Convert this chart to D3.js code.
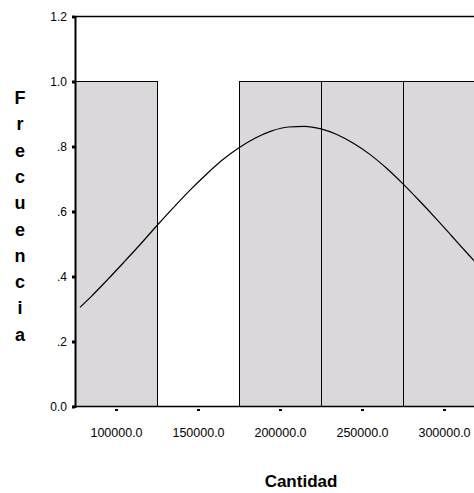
<!DOCTYPE html>
<html>
<head>
<meta charset="utf-8">
<script src="https://cdn.jsdelivr.net/npm/d3@7"></script>
<style>
  html, body { margin: 0; padding: 0; background: #fff; }
  svg { display: block; }
  text { font-family: "Liberation Sans", Arial, sans-serif; fill: #000; }
</style>
</head>
<body>
<svg id="chart" width="474" height="493"></svg>
<script>
// ---- data ----
const binCenters = [100000, 150000, 200000, 250000, 300000];
const binCounts  = [1, 0, 1, 1, 1];
const binWidth   = 50000;
const yTicks     = [0, 0.2, 0.4, 0.6, 0.8, 1.0, 1.2];
const yTickLabels = ["0.0", ".2", ".4", ".6", ".8", "1.0", "1.2"];
const xTicks     = [100000, 150000, 200000, 250000, 300000];
const xTickLabels = ["100000.0", "150000.0", "200000.0", "250000.0", "300000.0"];
// normal curve, points
const curveX = [78000, 85000, 95000, 105000, 115000, 125000, 135000, 145000, 155000, 165000,
                175000, 185000, 195000, 205000, 215000, 225000, 235000, 245000, 255000, 265000,
                275000, 285000, 295000, 305000, 315000, 325000];
const curveY = [0.305, 0.339, 0.391, 0.445, 0.500, 0.557, 0.612, 0.665, 0.714, 0.759,
                0.796, 0.826, 0.848, 0.860, 0.862, 0.854, 0.836, 0.809, 0.775, 0.733,
                0.685, 0.633, 0.579, 0.523, 0.467, 0.412];
const yTitle = "Frecuencia";
const xTitle = "Cantidad";

// ---- drawing ----
const svg = d3.select("#chart");
const x = d3.scaleLinear().domain([75000, 325000]).range([75, 485]);
const y = d3.scaleLinear().domain([0, 1.2]).range([406.5, 16.5]);

// bars
svg.append("g").selectAll("rect")
  .data(binCenters.map((c, i) => ({ c, n: binCounts[i] })).filter(d => d.n > 0))
  .join("rect")
  .attr("x", d => Math.round(x(d.c - binWidth / 2)) + 0.5)
  .attr("y", d => y(d.n))
  .attr("width", d => Math.round(x(d.c + binWidth / 2)) - Math.round(x(d.c - binWidth / 2)))
  .attr("height", d => y(0) - y(d.n))
  .attr("fill", "#dad8da")
  .attr("stroke", "#000")
  .attr("stroke-width", 1)
  .attr("shape-rendering", "crispEdges");

// normal curve
const line = d3.line()
  .x(d => x(d[0]))
  .y(d => y(d[1]))
  .curve(d3.curveMonotoneX);
svg.append("path")
  .datum(curveX.map((v, i) => [v, curveY[i]]))
  .attr("d", line)
  .attr("fill", "none")
  .attr("stroke", "#000")
  .attr("stroke-width", 1.2);

// top frame line
svg.append("line")
  .attr("x1", 75).attr("x2", 485)
  .attr("y1", y(1.2)).attr("y2", y(1.2))
  .attr("stroke", "#000").attr("stroke-width", 1.5);

// baseline
svg.append("line")
  .attr("x1", 73).attr("x2", 485)
  .attr("y1", y(0)).attr("y2", y(0))
  .attr("stroke", "#000").attr("stroke-width", 1.5);

// y axis
const yAxis = d3.axisLeft(y)
  .tickValues(yTicks)
  .tickFormat((d, i) => yTickLabels[i])
  .tickSize(3)
  .tickPadding(5);
const gy = svg.append("g").attr("transform", "translate(75,0)").call(yAxis);
gy.select(".domain").attr("stroke", "#000").attr("stroke-width", 2);
gy.selectAll(".tick line").attr("stroke", "#000").attr("stroke-width", 3);
gy.selectAll(".tick text")
  .style("font-family", "'Liberation Sans', Arial, sans-serif")
  .style("font-size", "12px");

// x axis (ticks only, detached from baseline)
const xAxis = d3.axisBottom(x)
  .tickValues(xTicks)
  .tickFormat((d, i) => xTickLabels[i])
  .tickSize(2)
  .tickPadding(17);
const gx = svg.append("g").attr("transform", "translate(0,409)").call(xAxis);
gx.select(".domain").remove();
gx.selectAll(".tick line").attr("stroke", "#000").attr("stroke-width", 3);
gx.selectAll(".tick text")
  .style("font-family", "'Liberation Sans', Arial, sans-serif")
  .style("font-size", "12.5px");

// y title: stacked letters
svg.append("g").selectAll("text")
  .data(yTitle.split(""))
  .join("text")
  .attr("x", 20)
  .attr("y", (d, i) => 104 + i * 26.3)
  .attr("text-anchor", "middle")
  .style("font-weight", "bold")
  .style("font-size", "18px")
  .text(d => d);

// x title
svg.append("text")
  .attr("x", 301)
  .attr("y", 487)
  .attr("text-anchor", "middle")
  .style("font-weight", "bold")
  .style("font-size", "17px")
  .text(xTitle);
</script>
</body>
</html>
